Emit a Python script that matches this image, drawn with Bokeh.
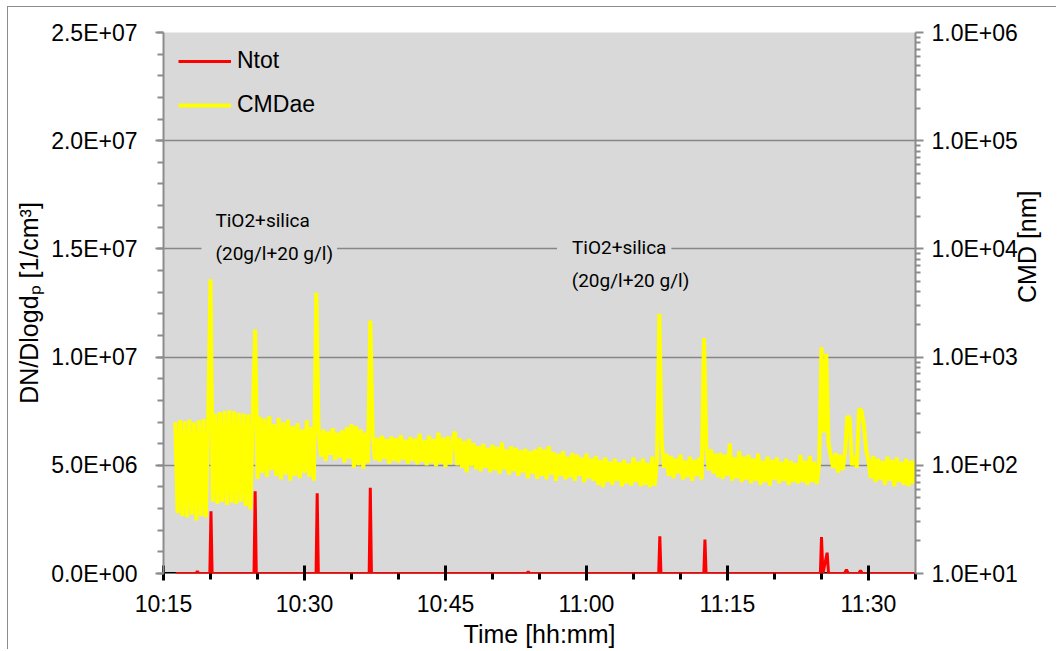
import math
from bokeh.plotting import figure
from bokeh.models import (Range1d, LogAxis, LogScale, FixedTicker, CustomJSTickFormatter,
                          Label, Legend, LegendItem, ColumnDataSource, Span)
from bokeh.embed import file_html
from bokeh.resources import INLINE

# ---------------- data ----------------
# x axis: minutes of the day (10:15 -> 615)
x_tick_minutes = [615, 630, 645, 660, 675, 690]
x_tick_labels = ["10:15", "10:30", "10:45", "11:00", "11:15", "11:30"]

# CMDae [nm], sampled every 0.25 min starting 10:16:15
cmd_t0 = 616.25
cmd_dt = 0.25
cmd_seg_a = [250, 36, 262, 34, 255, 33, 265, 35, 248, 31, 260, 34, 268, 33, 255, 5250]
cmd_seg_b = [46, 300, 44, 310, 46, 318, 43, 322, 45, 315, 44, 305, 46, 300, 42, 295, 39, 290, 1800]
cmd_seg_c = [75, 280, 85, 270, 78, 285, 90, 240, 80, 275, 74, 250, 82, 265, 72, 230, 80, 245, 76, 215,
             85, 260, 78, 225, 72, 3930]
cmd_seg_d = [200, 120, 215, 110, 205, 125, 220, 112, 200, 118, 210, 106, 225, 115, 240, 95, 230, 100,
             215, 93, 200, 105, 2180]
cmd_seg_e = [190, 112, 180, 108, 188, 115, 175, 104, 185, 110, 178, 106, 190, 113, 172, 104, 183, 110,
             176, 102, 195, 108, 170, 100, 188, 105, 175, 98, 200, 104, 180, 96, 185, 102, 172, 205,
             100, 178, 95, 168, 86, 175, 98]
cmd_seg_f = [160, 92, 150, 88, 158, 95, 145, 86, 155, 90,
             148, 84, 162, 92, 140, 82, 150, 88, 145, 80,
             138, 86, 142, 76, 135, 84, 140, 75, 147, 80,
             140, 74, 150, 82, 132, 72, 128, 80, 135, 74,
             120, 78, 130, 72, 125, 80, 118, 70, 128, 76,
             115, 72, 122, 66, 112, 63, 118, 70, 108, 66,
             115, 72, 106, 64, 112, 68, 104, 65, 118, 70,
             108, 64, 115, 66, 105, 63, 120, 65, 110, 2510]
cmd_seg_g = [165, 95, 128, 80, 122, 76, 115, 84, 125, 74, 110, 78, 120, 72, 112, 80, 118, 74, 1500]
cmd_seg_h = [150, 90, 140, 84, 128, 78, 130, 75, 125, 80,
             159, 72, 118, 76, 135, 70, 120, 74, 125, 68,
             115, 72, 128, 66, 110, 70, 120, 65, 112, 74,
             118, 68, 108, 72, 115, 66, 110, 70, 105, 68,
             125, 70, 110, 66, 122, 70, 108, 67, 105, 1230, 200, 1070]
cmd_seg_i = [160, 120, 95, 130, 86, 125, 90, 130, 284, 270,
             100, 122, 95, 332, 320, 240, 140, 110, 76, 122,
             70, 115, 74, 110, 66, 120, 72, 112, 64, 118,
             70, 108, 66, 115, 64, 110, 68, 112]

# Ntot [1/cm3]
ntot_minutes = [616.3, 618.45, 618.6, 618.75, 619.93, 620.05, 620.17, 624.63, 624.75, 624.87,
                631.23, 631.35, 631.47, 636.88, 637.0, 637.12, 653.65, 653.8, 653.95,
                667.68, 667.8, 667.92, 672.48, 672.6, 672.72, 684.88, 685.0, 685.15,
                685.6, 685.75, 687.45, 687.65, 687.85, 688.95, 689.15, 689.35, 695.0]
ntot_values = [0, 0, 1.0e5, 0, 0, 2.88e6, 0, 0, 3.8e6, 0,
               0, 3.71e6, 0, 0, 3.96e6, 0, 0, 8e4, 0,
               0, 1.72e6, 0, 0, 1.57e6, 0, 0, 1.68e6, 0,
               0.96e6, 0, 0, 1.8e5, 0, 0, 1.4e5, 0, 0]

left_ticks = [0, 5e6, 1e7, 1.5e7, 2e7, 2.5e7]
right_ticks = [1e1, 1e2, 1e3, 1e4, 1e5, 1e6]

# ---------------- build ----------------
cmd_values = (cmd_seg_a + cmd_seg_b + cmd_seg_c + cmd_seg_d + cmd_seg_e + cmd_seg_f +
              cmd_seg_g + cmd_seg_h + cmd_seg_i)
cmd_minutes = [cmd_t0 + cmd_dt * i for i in range(len(cmd_values))]

FONT = "Liberation Sans"
ANN_FONT = "Roboto"
GRAY = "#8c8c8c"

p = figure(width=1049, height=643, output_backend="svg", toolbar_location=None,
           x_range=Range1d(615, 695), y_range=Range1d(0, 2.5e7),
           min_border_left=155, min_border_right=141, min_border_top=25, min_border_bottom=77,
           background_fill_color="#d9d9d9", border_fill_color="white",
           outline_line_color=None,
           styles={"border-left": "1px solid #8c8c8c", "border-top": "1px solid #8c8c8c",
                   "margin-left": "7px", "margin-top": "6px"})

p.extra_y_ranges = {"cmd": Range1d(10, 1e6)}
p.extra_y_scales = {"cmd": LogScale()}

sci_fmt = CustomJSTickFormatter(code="""
if (tick == 0) { return "0.0E+00"; }
let e = Math.floor(Math.log10(Math.abs(tick)) + 1e-9);
let m = tick / Math.pow(10, e);
let s = m.toFixed(1);
if (s == "10.0") { s = "1.0"; e = e + 1; }
const es = (e < 0 ? "-" : "+") + String(Math.abs(e)).padStart(2, "0");
return s + "E" + es;
""")

# baseline (drawn under the series)
p.add_layout(Span(location=0, dimension="width", line_color="black", line_width=3, level="underlay"))

src_cmd = ColumnDataSource(dict(x=cmd_minutes, y=cmd_values))
src_ntot = ColumnDataSource(dict(x=ntot_minutes, y=ntot_values))
r_cmd = p.line("x", "y", source=src_cmd, y_range_name="cmd", line_color="#ffff00", line_width=4)
r_ntot = p.line("x", "y", source=src_ntot, line_color="#ff0000", line_width=3)

# x axis
xa = p.xaxis[0]
xa.ticker = FixedTicker(ticks=x_tick_minutes, minor_ticks=list(range(615, 700, 5)))
xa.major_label_overrides = {t: l for t, l in zip(x_tick_minutes, x_tick_labels)}
xa.axis_line_color = None
xa.major_tick_line_color = "black"
xa.major_tick_line_width = 3
xa.major_tick_in = 8
xa.major_tick_out = 7
xa.minor_tick_line_color = "black"
xa.minor_tick_line_width = 3
xa.minor_tick_in = 0
xa.minor_tick_out = 6
xa.major_label_text_font = FONT
xa.major_label_text_font_size = "23px"
xa.major_label_text_color = "black"
xa.major_label_standoff = 10
xa.axis_label = "Time [hh:mm]"
xa.axis_label_text_font = FONT
xa.axis_label_text_font_size = "25px"
xa.axis_label_text_font_style = "normal"
xa.axis_label_text_color = "black"
xa.axis_label_standoff = 0
p.xgrid.visible = False

# left axis
ya = p.yaxis[0]
ya.ticker = FixedTicker(ticks=left_ticks, minor_ticks=[i * 1e6 for i in range(26)])
ya.formatter = sci_fmt
ya.axis_line_color = GRAY
ya.axis_line_width = 2
ya.major_tick_line_color = GRAY
ya.major_tick_line_width = 2
ya.major_tick_in = 0
ya.major_tick_out = 8
ya.minor_tick_line_color = GRAY
ya.minor_tick_line_width = 2
ya.minor_tick_in = 0
ya.minor_tick_out = 6
ya.major_label_text_font = FONT
ya.major_label_text_font_size = "23px"
ya.major_label_text_color = "black"
ya.major_label_standoff = 18
ya.axis_label = "DN/Dlogd\u209a [1/cm\u00b3]"
ya.axis_label_text_font = FONT
ya.axis_label_text_font_size = "25px"
ya.axis_label_text_font_style = "normal"
ya.axis_label_text_color = "black"
ya.axis_label_standoff = 5

p.ygrid.ticker = FixedTicker(ticks=left_ticks)
p.ygrid.grid_line_color = "#868686"
p.ygrid.grid_line_width = 1.6

# right log axis (ticks and tick labels)
minor_log = [m * 10 ** k for k in range(1, 6) for m in range(2, 10)]
ra = LogAxis(y_range_name="cmd", ticker=FixedTicker(ticks=right_ticks, minor_ticks=minor_log),
             formatter=sci_fmt)
ra.axis_line_color = GRAY
ra.axis_line_width = 2
ra.major_tick_line_color = GRAY
ra.major_tick_line_width = 2
ra.major_tick_in = 0
ra.major_tick_out = 8
ra.minor_tick_line_color = GRAY
ra.minor_tick_line_width = 2
ra.minor_tick_in = 0
ra.minor_tick_out = 5
ra.major_label_text_font = FONT
ra.major_label_text_font_size = "23px"
ra.major_label_text_color = "black"
ra.major_label_standoff = 8
p.add_layout(ra, "right")

# right axis title (separate, tick-less axis; title reads upward)
rt = LogAxis(y_range_name="cmd", ticker=FixedTicker(ticks=[], minor_ticks=[]),
             axis_line_color=None,
             major_tick_out=0, major_tick_in=0, minor_tick_out=0, minor_tick_in=0,
             major_label_standoff=0)
rt.axis_label = "CMD [nm]"
rt.axis_label_text_font = FONT
rt.axis_label_text_font_size = "25px"
rt.axis_label_text_font_style = "normal"
rt.axis_label_text_color = "black"
rt.axis_label_text_align = "center"
rt.axis_label_text_baseline = "middle"
rt.axis_label_standoff = 6
if "axis_label_orientation" in rt.properties():
    rt.axis_label_orientation = math.pi / 2
p.add_layout(rt, "right")

# legend
legend = Legend(items=[LegendItem(label="Ntot", renderers=[r_ntot]),
                       LegendItem(label="CMDae", renderers=[r_cmd])],
                location="top_left", margin=15, padding=5,
                background_fill_alpha=0, border_line_color=None,
                label_text_font=FONT, label_text_font_size="23px", label_text_color="black",
                glyph_width=53, glyph_height=20, label_standoff=6, spacing=17)
p.add_layout(legend)

# annotations
ann_style = dict(text_font=ANN_FONT, text_font_size="19px", text_color="black", text_align="left",
                 text_baseline="middle", background_fill_color="#d9d9d9")
p.add_layout(Label(x=620.31, y=1.631e7, text="TiO2+silica", padding=2, **ann_style))
p.add_layout(Label(x=619.04, y=1.480e7, text="(20g/l+20 g/l)",
                   padding=dict(left=14, right=4, top=2, bottom=2), **ann_style))
p.add_layout(Label(x=656.86, y=1.508e7, text="TiO2+silica",
                   padding=dict(left=15, right=5, top=2, bottom=2), **ann_style))
p.add_layout(Label(x=658.21, y=1.354e7, text="(20g/l+20 g/l)", padding=2, **ann_style))

open("out.html", "w").write(file_html(p, INLINE))
